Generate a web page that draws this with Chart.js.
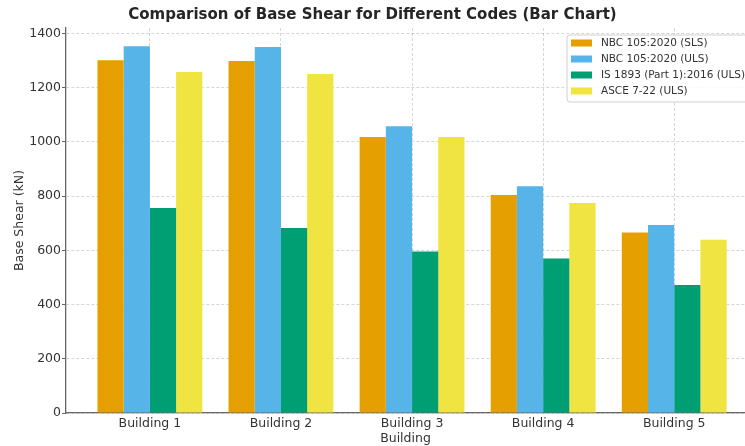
<!DOCTYPE html>
<html>
<head>
<meta charset="utf-8">
<script src="https://cdn.jsdelivr.net/npm/chart.js@4.4.1/dist/chart.umd.min.js"></script>
<style>
  html, body { margin: 0; padding: 0; background: #fff; overflow: hidden; }
  #wrap { width: 745px; height: 446px; }
</style>
</head>
<body>
<div id="wrap"><canvas id="barChart" width="745" height="446"></canvas></div>
<script>
// data
var buildings = ["Building 1", "Building 2", "Building 3", "Building 4", "Building 5"];
var nbcSls  = [1301, 1298, 1018, 804, 666];
var nbcUls  = [1353, 1350, 1058, 836, 693];
var isUls   = [756, 682, 596, 570, 472];
var asceUls = [1258, 1250, 1018, 775, 639];
var seriesNames = ["NBC 105:2020 (SLS)", "NBC 105:2020 (ULS)", "IS 1893 (Part 1):2016 (ULS)", "ASCE 7-22 (ULS)"];
var seriesColors = ["#E69F00", "#56B4E9", "#009E73", "#F0E442"];
var yTicks = [0, 200, 400, 600, 800, 1000, 1200, 1400];

Chart.defaults.font.family = "'DejaVu Sans', sans-serif";
Chart.defaults.color = "#333";

function toPoints(vals) {
  return vals.map(function(v, i) { return { x: i, y: v }; });
}

var allSeries = [nbcSls, nbcUls, isUls, asceUls];
var datasets = [];
for (var s = 0; s < allSeries.length; s++) {
  datasets.push({
    label: seriesNames[s],
    data: toPoints(allSeries[s]),
    backgroundColor: seriesColors[s],
    borderWidth: 0,
    categoryPercentage: 0.8,
    barPercentage: 1.0
  });
}

// legend box drawn inside the plot, top right (like matplotlib)
var boxLegend = {
  id: 'boxLegend',
  afterDraw: function(chart) {
    var ctx = chart.ctx;
    var ca = chart.chartArea;
    var x = ca.right - 178, y = ca.top + 7;
    ctx.save();
    ctx.beginPath();
    ctx.roundRect(x, y, 200, 67, 3);
    ctx.fillStyle = "rgba(255,255,255,0.85)";
    ctx.fill();
    ctx.strokeStyle = "#d0d0d0";
    ctx.lineWidth = 1;
    ctx.stroke();
    ctx.font = "10.5px 'DejaVu Sans'";
    ctx.textBaseline = "middle";
    chart.data.datasets.forEach(function(ds, i) {
      var ry = y + 8 + i * 16;
      ctx.fillStyle = ds.backgroundColor;
      ctx.fillRect(x + 4, ry - 3.5, 21, 7);
      ctx.fillStyle = "#333";
      ctx.fillText(ds.label, x + 34, ry);
    });
    ctx.restore();
  }
};

var ctx = document.getElementById("barChart");
var barGraph = new Chart(ctx, {
  type: 'bar',
  data: { datasets: datasets },
  plugins: [boxLegend],
  options: {
    responsive: false,
    animation: false,
    layout: { padding: { left: 0, right: 0, top: 0, bottom: 0 } },
    plugins: {
      legend: { display: false },
      tooltip: { enabled: false },
      title: {
        display: true,
        text: "Comparison of Base Shear for Different Codes (Bar Chart)",
        font: { size: 15, weight: 'bold' },
        color: "#262626",
        padding: { top: 6, bottom: 4 }
      }
    },
    scales: {
      x: {
        type: 'linear',
        min: -0.64,
        max: 4.54,
        offset: false,
        afterBuildTicks: function(scale) {
          scale.ticks = buildings.map(function(b, i) { return { value: i }; });
        },
        afterFit: function(scale) { scale.height = 33; },
        ticks: {
          callback: function(v) { return buildings[v]; },
          font: { size: 12.5 },
          color: "#333",
          padding: 3,
          maxRotation: 0
        },
        grid: {
          offset: false,
          drawTicks: false,
          color: "rgba(0,0,0,0.16)",
          lineWidth: 1
        },
        border: { display: true, color: "#666", width: 1.3, dash: [3, 2] },
        title: {
          display: true,
          text: "Building",
          font: { size: 12.5 },
          color: "#333",
          padding: { top: 0, bottom: 0 }
        }
      },
      y: {
        min: 0,
        max: 1420,
        afterBuildTicks: function(scale) {
          scale.ticks = yTicks.map(function(v) { return { value: v }; });
        },
        afterFit: function(scale) { scale.width = 66; },
        ticks: {
          callback: function(v) { return String(v); },
          font: { size: 12.5 },
          color: "#333",
          padding: 1
        },
        grid: {
          color: "rgba(0,0,0,0.16)",
          tickColor: "#666",
          tickLength: 4,
          lineWidth: 1
        },
        border: { display: true, color: "#666", width: 1.3, dash: [3, 2] },
        title: {
          display: true,
          text: "Base Shear (kN)",
          font: { size: 12.5 },
          color: "#333",
          padding: { top: 12, bottom: 4 }
        }
      }
    }
  }
});
</script>
</body>
</html>
